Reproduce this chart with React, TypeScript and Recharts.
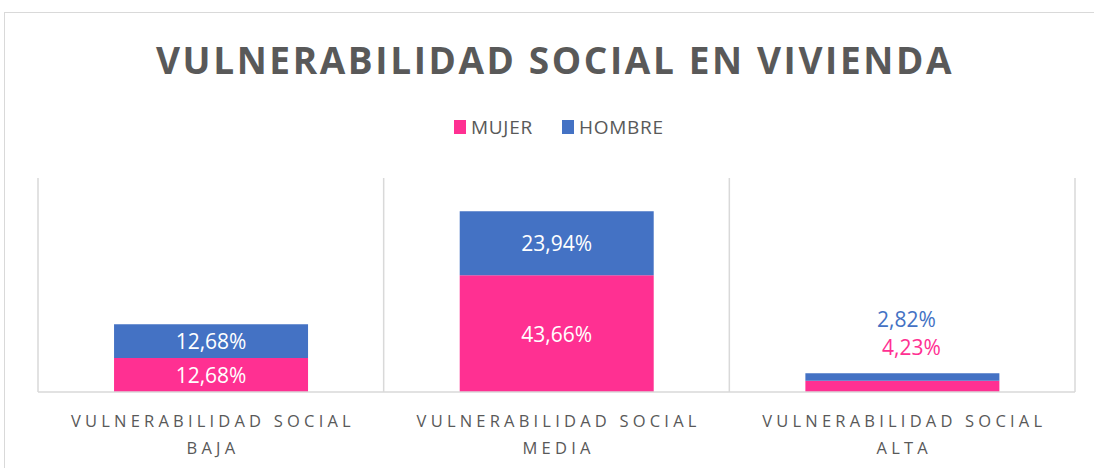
import React from "react";
import { BarChart, Bar, XAxis, YAxis, CartesianGrid, LabelList } from "recharts";

const categories = [
  "VULNERABILIDAD SOCIAL BAJA",
  "VULNERABILIDAD SOCIAL MEDIA",
  "VULNERABILIDAD SOCIAL ALTA",
];
const mujer = [12.68, 43.66, 4.23];
const hombre = [12.68, 23.94, 2.82];
const seriesNames = ["MUJER", "HOMBRE"];
const seriesColors = ["#FF3092", "#4472C4"];
const title = "VULNERABILIDAD SOCIAL EN VIVIENDA";

const data = categories.map((c, i) => ({ name: c, mujer: mujer[i], hombre: hombre[i] }));

const FONT = "'Open Sans', sans-serif";
const W = 1094;
const H = 468;

const fmt = (v: number) => v.toFixed(2).replace(".", ",") + "%";

const makeLabel = (color: string, outsideOffset: number, dx: number) => (props: any) => {
  const { x, y, width, height, value } = props;
  const cx = Number(x) + Number(width) / 2;
  const h = Math.abs(Number(height));
  if (h < 25) {
    return (
      <text
        x={cx + dx}
        y={Number(y) - outsideOffset}
        fill={color}
        fontFamily={FONT}
        fontSize={21}
        textAnchor="middle"
        dominantBaseline="central"
      >
        {fmt(Number(value))}
      </text>
    );
  }
  return (
    <text
      x={cx}
      y={Number(y) + h / 2}
      fill="#ffffff"
      fontFamily={FONT}
      fontSize={21}
      textAnchor="middle"
      dominantBaseline="central"
    >
      {fmt(Number(value))}
    </text>
  );
};

const CatTick = (props: any) => {
  const { x, payload } = props;
  const s = String(payload.value);
  const k = s.lastIndexOf(" ");
  const l1 = s.slice(0, k);
  const l2 = s.slice(k + 1);
  const ls = 4.2;
  const base = 392;
  return (
    <g>
      <text
        x={x + ls / 2}
        y={base + 35}
        textAnchor="middle"
        fill="#595959"
        fontFamily={FONT}
        fontSize={16.5}
        letterSpacing={ls}
      >
        {l1}
      </text>
      <text
        x={x + ls / 2}
        y={base + 62}
        textAnchor="middle"
        fill="#595959"
        fontFamily={FONT}
        fontSize={16.5}
        letterSpacing={ls}
      >
        {l2}
      </text>
    </g>
  );
};

export default function App() {
  return (
    <div style={{ position: "absolute", left: 0, top: 0, width: W, height: H, background: "#fff", overflow: "hidden" }}>
      <div
        style={{
          position: "absolute",
          left: 4,
          top: 12,
          width: W + 20,
          height: H + 20,
          border: "1px solid #d9d9d9",
          boxSizing: "border-box",
        }}
      />
      <div style={{ position: "absolute", left: 0, top: 0 }}>
        <BarChart
          width={W}
          height={H}
          data={data}
          margin={{ top: 178, right: 19, bottom: 0, left: 38 }}
          barCategoryGap="22%"
        >
          <CartesianGrid
            horizontal={false}
            vertical={true}
            stroke="#d9d9d9"
            strokeWidth={1.5}
            verticalCoordinatesGenerator={({ offset }: any) =>
              categories.concat([""]).map((_, i) => offset.left + (offset.width * i) / categories.length)
            }
          />
          <XAxis
            dataKey="name"
            height={76}
            axisLine={{ stroke: "#d9d9d9", strokeWidth: 1.5 }}
            tickLine={false}
            tick={<CatTick />}
            interval={0}
          />
          <YAxis hide domain={[0, 80]} />
          <Bar dataKey="mujer" stackId="a" fill={seriesColors[0]} isAnimationActive={false}>
            <LabelList dataKey="mujer" content={makeLabel(seriesColors[0], 34, 9)} />
          </Bar>
          <Bar dataKey="hombre" stackId="a" fill={seriesColors[1]} isAnimationActive={false}>
            <LabelList dataKey="hombre" content={makeLabel(seriesColors[1], 54, 4)} />
          </Bar>
        </BarChart>
      </div>
      <svg
        width={W}
        height={H}
        style={{ position: "absolute", left: 0, top: 0, pointerEvents: "none" }}
      >
        <text
          x={555}
          y={74}
          textAnchor="middle"
          fill="#595959"
          fontFamily={FONT}
          fontWeight={700}
          fontSize={37}
          letterSpacing={2.6}
        >
          {title}
        </text>
        {seriesNames.map((n, i) => {
          const x0 = i === 0 ? 454 : 562;
          return (
            <g key={n}>
              <rect x={x0} y={120} width={12} height={14} fill={seriesColors[i]} />
              <text
                x={x0 + 17}
                y={134}
                fill="#595959"
                fontFamily={FONT}
                fontSize={19}
                letterSpacing={0.7}
              >
                {n}
              </text>
            </g>
          );
        })}
      </svg>
    </div>
  );
}
